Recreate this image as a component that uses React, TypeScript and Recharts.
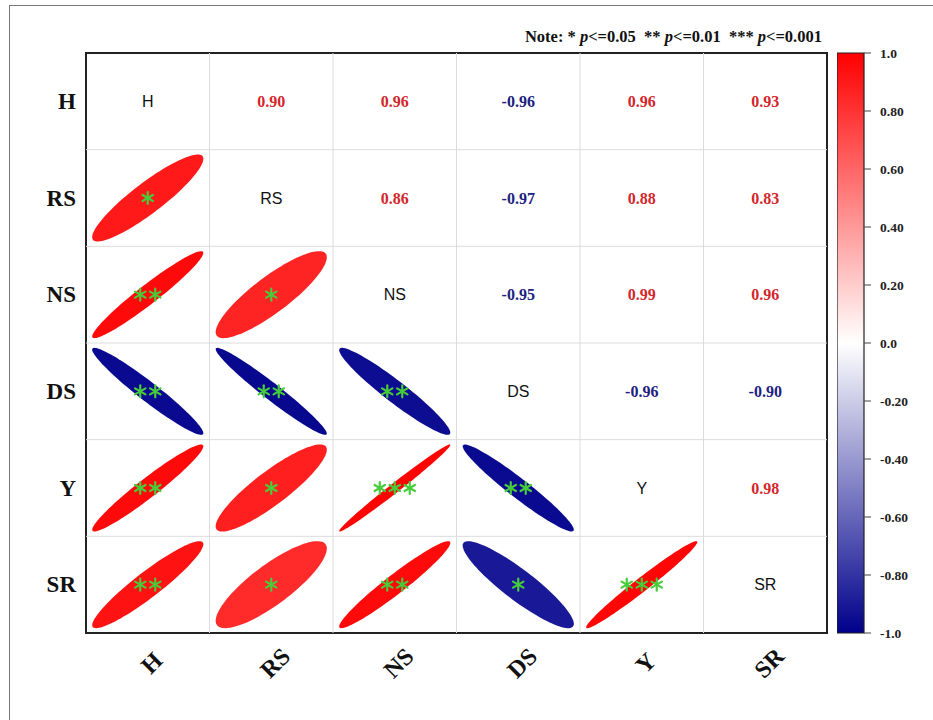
import React from "react";
import {
  Bar,
  BarChart,
  ReferenceArea,
  ReferenceLine,
  Scatter,
  ScatterChart,
  XAxis,
  YAxis,
} from "recharts";

const VARS = ["H", "RS", "NS", "DS", "Y", "SR"];

// correlation rows (row variable vs VARS)
const R_H = [1, 0.9, 0.96, -0.96, 0.96, 0.93];
const R_RS = [0.9, 1, 0.86, -0.97, 0.88, 0.83];
const R_NS = [0.96, 0.86, 1, -0.95, 0.99, 0.96];
const R_DS = [-0.96, -0.97, -0.95, 1, -0.96, -0.9];
const R_Y = [0.96, 0.88, 0.99, -0.96, 1, 0.98];
const R_SR = [0.93, 0.83, 0.96, -0.9, 0.98, 1];

// significance for the lower triangle (row vs earlier columns)
const SIG_RS = ["*"];
const SIG_NS = ["**", "*"];
const SIG_DS = ["**", "**", "**"];
const SIG_Y = ["**", "*", "***", "**"];
const SIG_SR = ["**", "*", "**", "*", "***"];

const CB_TICKS = [-1, -0.8, -0.6, -0.4, -0.2, 0, 0.2, 0.4, 0.6, 0.8, 1];
const CB_LABELS = ["-1.0", "-0.80", "-0.60", "-0.40", "-0.20", "0.0", "0.20", "0.40", "0.60", "0.80", "1.0"];
const CB_RANGE = [{ name: "scale", v: [-1, 1] }];

const ROWS = [R_H, R_RS, R_NS, R_DS, R_Y, R_SR];
const SIGS = [[], SIG_RS, SIG_NS, SIG_DS, SIG_Y, SIG_SR];

const W = 933;
const H = 720;
const PLOT_L = 86;
const PLOT_T = 53;
const PLOT_R = 827;
const PLOT_B = 633;
const CELL_W = (PLOT_R - PLOT_L) / 6;
const CELL_H = (PLOT_B - PLOT_T) / 6;

const SERIF = "'Liberation Serif', 'Times New Roman', serif";
const SANS = "'Liberation Sans', Arial, sans-serif";
const STAR = "#47cc3a";
const POS_TXT = "#d3262b";
const NEG_TXT = "#1c2180";

function corrColor(r: number) {
  const t = Math.abs(r);
  const end = r >= 0 ? [255, 0, 0] : [0, 0, 139];
  const c = end.map((v) => Math.round(255 * (1 - t) + v * t));
  return `rgb(${c[0]},${c[1]},${c[2]})`;
}

const lower: any[] = [];
const upper: any[] = [];
const diag: any[] = [];
ROWS.forEach((row, i) => {
  row.forEach((r, j) => {
    const pt = { x: j + 0.5, y: 5.5 - i, r, name: VARS[i], sig: j < i ? SIGS[i][j] : "" };
    if (j < i) lower.push(pt);
    else if (j > i) upper.push(pt);
    else diag.push(pt);
  });
});

function ellipsePath(cx: number, cy: number, r: number) {
  const a = Math.acos(r) / 2;
  const sx = 0.45 * CELL_W;
  const sy = 0.45 * CELL_H;
  let d = "";
  for (let k = 0; k <= 100; k++) {
    const t = (k / 100) * Math.PI * 2;
    const px = cx + Math.cos(t + a) * sx;
    const py = cy - Math.cos(t - a) * sy;
    d += (k === 0 ? "M" : "L") + px.toFixed(2) + "," + py.toFixed(2);
  }
  return d + "Z";
}

function Asterisk({ x, y }: { x: number; y: number }) {
  const len = 6;
  const arms = [90, 30, 150].map((deg) => {
    const rad = (deg * Math.PI) / 180;
    return { dx: Math.cos(rad) * len, dy: Math.sin(rad) * len };
  });
  return (
    <g stroke={STAR} strokeWidth={2.2} strokeLinecap="round">
      {arms.map((a, i) => (
        <line key={i} x1={x - a.dx} y1={y - a.dy} x2={x + a.dx} y2={y + a.dy} />
      ))}
    </g>
  );
}

function EllipseShape(props: any) {
  const { cx, cy, payload } = props;
  const n = payload.sig.length;
  const gap = 15;
  return (
    <g>
      <path d={ellipsePath(cx, cy, payload.r)} fill={corrColor(payload.r)} />
      {Array.from({ length: n }).map((_, k) => (
        <Asterisk key={k} x={cx + (k - (n - 1) / 2) * gap} y={cy} />
      ))}
    </g>
  );
}

function ValueShape(props: any) {
  const { cx, cy, payload } = props;
  return (
    <text
      x={cx}
      y={cy}
      textAnchor="middle"
      dominantBaseline="central"
      fontFamily={SERIF}
      fontWeight="bold"
      fontSize={16}
      fill={payload.r >= 0 ? POS_TXT : NEG_TXT}
    >
      {payload.r.toFixed(2)}
    </text>
  );
}

function DiagShape(props: any) {
  const { cx, cy, payload } = props;
  return (
    <text x={cx} y={cy} textAnchor="middle" dominantBaseline="central" fontFamily={SANS} fontSize={16} fill="#111">
      {payload.name}
    </text>
  );
}

function YTick(props: any) {
  const { y, payload } = props;
  return (
    <text x={PLOT_L - 10} y={y} textAnchor="end" dominantBaseline="central" fontFamily={SERIF} fontWeight="bold" fontSize={23} fill="#111">
      {VARS[5 - Math.floor(payload.value)]}
    </text>
  );
}

function XTick(props: any) {
  const { x, payload } = props;
  return (
    <text
      transform={`translate(${x + 4},${663}) rotate(-45)`}
      textAnchor="middle"
      dominantBaseline="central"
      fontFamily={SERIF}
      fontWeight="bold"
      fontSize={24}
      fill="#111"
    >
      {VARS[Math.floor(payload.value)]}
    </text>
  );
}

function CbTick(props: any) {
  const { x, y, payload } = props;
  return (
    <text x={x} y={y} textAnchor="start" dominantBaseline="central" fontFamily={SERIF} fontWeight="bold" fontSize={13.5} fill="#222">
      {CB_LABELS[CB_TICKS.indexOf(payload.value)]}
    </text>
  );
}

const CENTERS = [0.5, 1.5, 2.5, 3.5, 4.5, 5.5];
const INNER = [1, 2, 3, 4, 5];

export default function App() {
  return (
    <div style={{ position: "absolute", left: 0, top: 0, width: W, height: H, background: "#fff", overflow: "hidden" }}>
      <div
        style={{
          position: "absolute",
          left: 9,
          top: 5,
          width: W,
          height: H,
          borderLeft: "1.5px solid #777",
          borderTop: "1.5px solid #777",
        }}
      />
      <div
        style={{
          position: "absolute",
          left: 0,
          top: 27,
          width: 822,
          textAlign: "right",
          fontFamily: SERIF,
          fontWeight: "bold",
          fontSize: 16.5,
          color: "#111",
          whiteSpace: "pre",
        }}
      >
        Note: * <i>p</i>&lt;=0.05  ** <i>p</i>&lt;=0.01  *** <i>p</i>&lt;=0.001
      </div>
      <div style={{ position: "absolute", left: 0, top: 0 }}>
        <ScatterChart width={W} height={H} margin={{ top: PLOT_T, right: W - PLOT_R, left: 0, bottom: 0 }}>
          <XAxis
            type="number"
            dataKey="x"
            domain={[0, 6]}
            ticks={CENTERS}
            interval={0}
            height={H - PLOT_B}
            axisLine={false}
            tickLine={false}
            tick={<XTick />}
          />
          <YAxis
            type="number"
            dataKey="y"
            domain={[0, 6]}
            ticks={CENTERS}
            interval={0}
            width={PLOT_L}
            axisLine={false}
            tickLine={false}
            tick={<YTick />}
          />
          {INNER.map((v) => (
            <ReferenceLine key={"vx" + v} x={v} stroke="#dcdcdc" strokeWidth={1} />
          ))}
          {INNER.map((v) => (
            <ReferenceLine key={"hy" + v} y={v} stroke="#dcdcdc" strokeWidth={1} />
          ))}
          <ReferenceArea x1={0} x2={6} y1={0} y2={6} fill="none" stroke="#222" strokeWidth={2} />
          <Scatter data={lower} shape={<EllipseShape />} isAnimationActive={false} />
          <Scatter data={upper} shape={<ValueShape />} isAnimationActive={false} />
          <Scatter data={diag} shape={<DiagShape />} isAnimationActive={false} />
        </ScatterChart>
      </div>
      <div style={{ position: "absolute", left: 837, top: 0 }}>
        <BarChart
          width={91}
          height={H}
          data={CB_RANGE}
          barCategoryGap={0}
          margin={{ top: PLOT_T, right: 0, left: 0, bottom: H - PLOT_B }}
        >
          <defs>
            <linearGradient id="cbGrad" x1="0" y1="0" x2="0" y2="1">
              <stop offset="0%" stopColor="#ff0000" />
              <stop offset="50%" stopColor="#ffffff" />
              <stop offset="100%" stopColor="#00008b" />
            </linearGradient>
          </defs>
          <XAxis dataKey="name" hide />
          <YAxis
            type="number"
            orientation="right"
            domain={[-1, 1]}
            ticks={CB_TICKS}
            interval={0}
            width={64}
            axisLine={false}
            tickSize={7}
            tickMargin={9}
            tickLine={{ stroke: "#444" }}
            tick={<CbTick />}
          />
          <Bar dataKey="v" fill="url(#cbGrad)" stroke="#222" strokeWidth={1.2} isAnimationActive={false} />
        </BarChart>
      </div>
    </div>
  );
}
